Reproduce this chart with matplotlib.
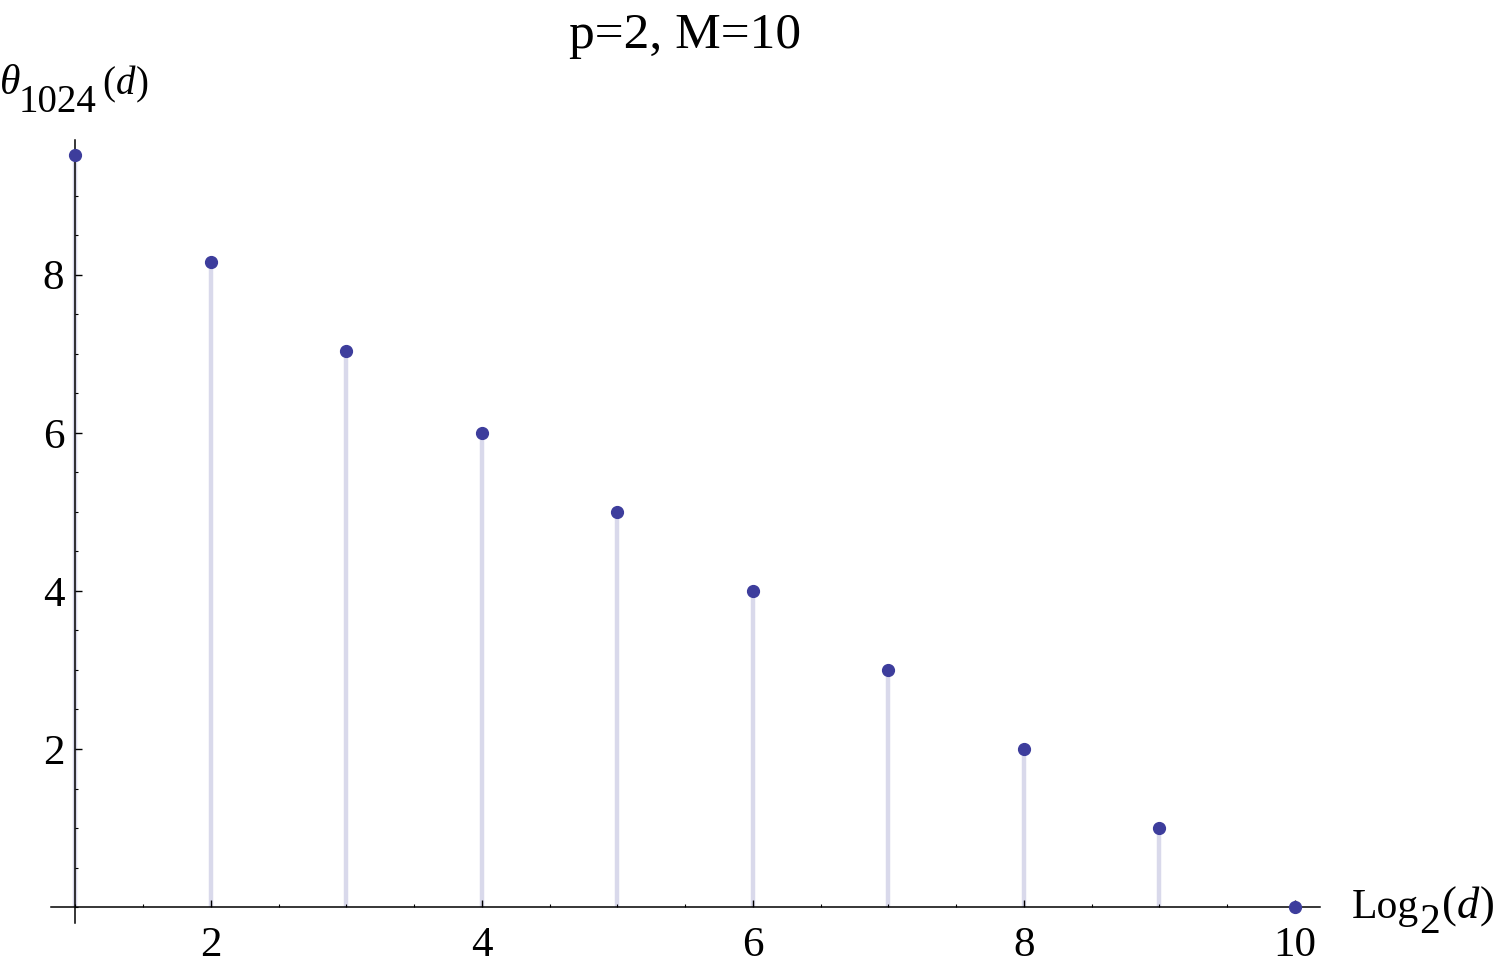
import matplotlib.pyplot as plt
from matplotlib.ticker import MultipleLocator

plt.rcParams.update({
    "font.family": "Liberation Serif",
})

# log2(d) positions and theta_1024(d) values
log2_d = [1, 2, 3, 4, 5, 6, 7, 8, 9, 10]
theta = [9.51, 8.16, 7.03, 6.0, 5.0, 4.0, 3.0, 2.0, 1.0, 0.0]

x_ticks = [2, 4, 6, 8, 10]
y_ticks = [2, 4, 6, 8]

POINT_COLOR = "#3d3d9c"
STEM_COLOR = "#d9d9eb"

W, H = 1500, 974
fig = plt.figure(figsize=(W / 100, H / 100), dpi=100)
ax = fig.add_axes([0.034, 0.0524, 0.846, 0.8036])

# stems then points
ax.vlines(log2_d, 0, theta, color=STEM_COLOR, linewidth=3.2, zorder=1)
ax.plot(log2_d, theta, "o", color=POINT_COLOR, markersize=8.5,
        zorder=4, clip_on=False)

ax.set_xlim(0.82, 10.185)
ax.set_ylim(-0.2, 9.70)

# Mathematica-style axes crossing at (1, 0)
ax.spines["left"].set_position(("data", 1))
ax.spines["bottom"].set_position(("data", 0))
ax.spines["right"].set_visible(False)
ax.spines["top"].set_visible(False)
for s in ("left", "bottom"):
    ax.spines[s].set_linewidth(1.1)
    ax.spines[s].set_zorder(2)

ax.set_xticks(x_ticks)
ax.set_yticks(y_ticks)
ax.xaxis.set_minor_locator(MultipleLocator(0.5))
ax.yaxis.set_minor_locator(MultipleLocator(0.5))
ax.tick_params(which="major", direction="in", length=5, width=1,
               labelsize=31)
ax.tick_params(which="minor", direction="in", length=2.5, width=0.8)
ax.tick_params(axis="x", which="major", pad=14)
ax.tick_params(axis="y", which="major", pad=8)

renderer = fig.canvas.get_renderer()


def px(x, y):
    return x / W, 1 - y / H


def label_pieces(x0, baseline, pieces):
    # pieces: (text, fontsize, style, baseline shift in px, gap after)
    x = x0
    for txt, size, style, dy, gap in pieces:
        t = fig.text(*px(x, baseline + dy), txt, fontsize=size,
                     fontstyle=style, ha="left", va="baseline")
        bb = t.get_window_extent(renderer)
        x += bb.width + gap


# title
fig.text(*px(685, 48), "p=2, M=10", fontsize=37,
         ha="center", va="baseline")

# y label: theta_1024(d)
label_pieces(0, 94, [
    ("θ", 30, "italic", 0, -2),
    ("1024", 28, "normal", 18, 6),
    ("(", 28, "normal", 0, 0),
    ("d", 28, "italic", 0, 1),
    (")", 28, "normal", 0, 0),
])

# x label: Log_2(d)
label_pieces(1352, 918, [
    ("Log", 30, "normal", 0, 0),
    ("2", 30, "normal", 15, 2),
    ("(", 32, "normal", 0, 0),
    ("d", 32, "italic", 0, 1),
    (")", 32, "normal", 0, 0),
])

fig.savefig("out.png", dpi=100)
